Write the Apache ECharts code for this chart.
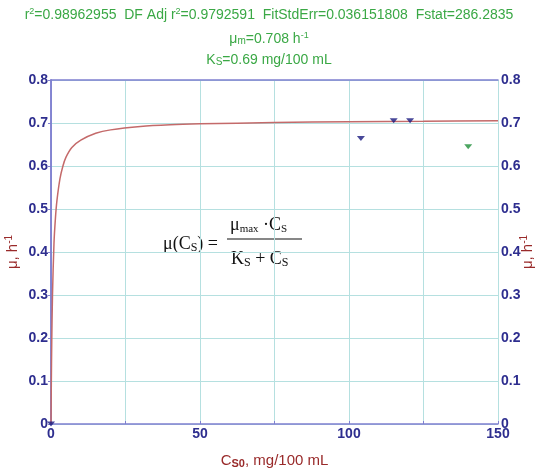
<!DOCTYPE html>
<html><head><meta charset="utf-8">
<script src="https://cdn.jsdelivr.net/npm/echarts@6/dist/echarts.min.js"></script>
<style>html,body{margin:0;padding:0;background:#fff}#c{width:538px;height:474px}</style>
</head><body><div id="c"></div>
<script>
// Data
var curveX = [0, 0.1, 0.25, 0.5, 1, 1.5, 2, 3, 4, 5, 7, 10, 15, 20, 30, 40, 50, 75, 100, 125, 150];
var curveY = [0, 0.09, 0.19, 0.30, 0.42, 0.48, 0.52, 0.57, 0.60, 0.62, 0.643, 0.66, 0.676, 0.684, 0.692, 0.696, 0.698, 0.701, 0.703, 0.704, 0.705];
var blueX = [0, 104, 115, 120.5];
var blueY = [0, 0.664, 0.705, 0.705];
var greenX = [140];
var greenY = [0.645];
var xTicks = [0, 50, 100, 150];
var yTicks = [0, 0.1, 0.2, 0.3, 0.4, 0.5, 0.6, 0.7, 0.8];

function pairs(xs, ys){ return xs.map(function(x,i){ return [x, ys[i]]; }); }

var axisBlue = '#7f7fd0';
var labelBlue = '#2e2e8f';
var gridTeal = '#b5e0e0';
var nameRed = '#992a2a';
var green = '#3aa845';
var FS = 'Liberation Sans, Arial';

var chart = echarts.init(document.getElementById('c'), null, {renderer:'canvas'});
var labelFmt = function(v){ return String(v); };
var yCommon = {
  type:'value', min:0, max:0.8, interval:0.1,
  axisLine:{show:true, lineStyle:{color:axisBlue, width:1.5}},
  axisTick:{show:true, length:3, lineStyle:{color:axisBlue}},
  axisLabel:{color:labelBlue, fontWeight:'bold', fontSize:14, fontFamily:FS, margin:3, formatter:labelFmt},
  nameLocation:'middle', nameRotate:90, nameMoveOverlap:false,
  nameTextStyle:{color:nameRed, fontSize:15, fontFamily:FS,
    rich:{sup:{fontSize:10, color:nameRed, padding:[0,0,8,0], fontFamily:FS}}}
};
var option = {
  animation:false,
  backgroundColor:'#fff',
  grid:{left:51, right:40, top:80, bottom:50, outerBoundsMode:'none', containLabel:false},
  xAxis:[{
    type:'value', min:0, max:150, interval:25,
    axisLine:{show:true, onZero:false, lineStyle:{color:axisBlue, width:1.5}},
    axisTick:{show:true, length:3, inside:true, lineStyle:{color:axisBlue}},
    axisLabel:{color:labelBlue, fontWeight:'bold', fontSize:14, fontFamily:FS, margin:3,
      formatter:function(v){ return xTicks.indexOf(v) >= 0 ? String(v) : ''; }},
    splitLine:{show:true, lineStyle:{color:gridTeal, width:1}},
    name:'{n|C}{sub|S0}{n|, mg/100 mL}', nameLocation:'middle', nameGap:28, nameMoveOverlap:false,
    nameTextStyle:{rich:{
      n:{color:nameRed, fontSize:15, fontFamily:FS},
      sub:{color:nameRed, fontSize:11, fontWeight:'bold', fontFamily:FS, padding:[6,0,0,0]}
    }}
  },{
    type:'value', min:0, max:150, position:'top',
    axisLine:{show:true, onZero:false, lineStyle:{color:axisBlue, width:1.5}},
    axisTick:{show:false}, axisLabel:{show:false}, splitLine:{show:false}
  }],
  yAxis:[
    Object.assign({}, yCommon, {position:'left', name:'μ, h{sup|-1}', nameGap:29,
      splitLine:{show:true, lineStyle:{color:gridTeal, width:1}}}),
    Object.assign({}, yCommon, {position:'right', name:'μ, h{sup|-1}', nameGap:21,
      axisTick:{show:true, length:3, inside:true, lineStyle:{color:axisBlue}},
      splitLine:{show:false}})
  ],
  series:[
    {type:'line', data:pairs(curveX, curveY), showSymbol:false, smooth:0.3,
      lineStyle:{color:'#c46a6a', width:1.5}, z:3},
    {type:'scatter', data:pairs(blueX, blueY), symbol:'triangle', symbolRotate:180, symbolSize:[8,5],
      itemStyle:{color:'#1a1a80'}, z:4},
    {type:'scatter', data:pairs(greenX, greenY), symbol:'triangle', symbolRotate:180, symbolSize:[8,5],
      itemStyle:{color:'#1f8f3a'}, z:4}
  ],
  graphic:[
    {type:'text', left:'center', top:7, style:{
      text:'r{sup|2}=0.98962955  DF Adj r{sup|2}=0.9792591  FitStdErr=0.036151808  Fstat=286.2835',
      fill:green, fontSize:14, fontFamily:FS,
      rich:{sup:{fontSize:9, fill:green, padding:[0,0,7,0], fontFamily:FS}}}},
    {type:'text', left:'center', top:31, style:{
      text:'μ{sub|m}=0.708 h{sup|-1}', fill:green, fontSize:14, fontFamily:FS,
      rich:{sup:{fontSize:9, fill:green, padding:[0,0,7,0], fontFamily:FS},
            sub:{fontSize:10, fill:green, padding:[5,0,0,0], fontFamily:FS}}}},
    {type:'text', left:'center', top:53, style:{
      text:'K{sub|S}=0.69 mg/100 mL', fill:green, fontSize:14, fontFamily:FS,
      rich:{sub:{fontSize:10, fill:green, padding:[5,0,0,0], fontFamily:FS}}}},
    // formula
    {type:'text', x:163, y:234, style:{
      text:'μ(C{s|S}) =', fill:'#111', fontSize:18, fontFamily:'Liberation Serif, Times New Roman',
      rich:{s:{fontSize:12, fill:'#111', padding:[8,0,0,0], fontFamily:'Liberation Serif'}}}},
    {type:'text', x:230, y:216, style:{
      text:'μ{s|max} ·C{s|S}', fill:'#111', fontSize:18, fontFamily:'Liberation Serif, Times New Roman',
      rich:{s:{fontSize:11, fill:'#111', padding:[8,0,0,0], fontFamily:'Liberation Serif'}}}},
    {type:'line', shape:{x1:227, y1:239, x2:302, y2:239}, style:{stroke:'#111', lineWidth:1.2}},
    {type:'text', x:231, y:249, style:{
      text:'K{s|S} + C{s|S}', fill:'#111', fontSize:18, fontFamily:'Liberation Serif, Times New Roman',
      rich:{s:{fontSize:12, fill:'#111', padding:[8,0,0,0], fontFamily:'Liberation Serif'}}}}
  ]
};
chart.setOption(option);
</script></body></html>
